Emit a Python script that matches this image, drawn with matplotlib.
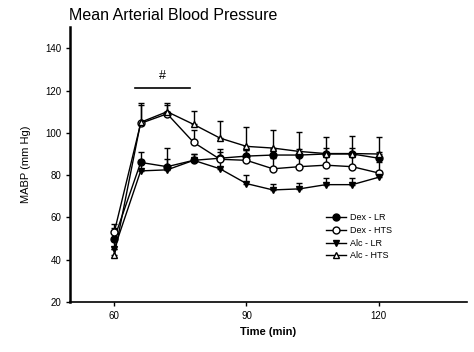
import matplotlib
matplotlib.use('Agg')
import matplotlib.pyplot as plt
from matplotlib.lines import Line2D

plt.rcParams['font.family'] = ['Liberation Sans', 'DejaVu Sans']

# 시간 (min)
time = [60, 66, 72, 78, 84, 90, 96, 102, 108, 114, 120]

# 평균 동맥압 (mm Hg)
dex_lr = [50, 86, 84, 87, 88, 89, 89.5, 89.5, 90, 90, 88]
dex_hts = [53, 104.5, 109, 95.5, 87.5, 87, 83, 84, 84.7, 84, 81]
alc_lr = [45, 82, 82.5, 87, 83, 76, 73, 73.5, 75.5, 75.5, 79]
alc_hts = [42, 105, 110, 104, 97.5, 93.6, 92.8, 91.2, 90.2, 90.2, 90]

# 위쪽 오차 막대 (SEM)
dex_lr_err = [5, 5, 9, 3, 3, 3, 3, 3, 3, 3, 3]
dex_hts_err = [4, 8.5, 4, 6, 5, 5, 5, 5, 5, 5, 5]
alc_lr_err = [4, 5, 5, 3, 4, 4, 3, 3, 3, 3, 3]
alc_hts_err = [3, 9, 4, 6.5, 8, 9, 8.5, 9, 8, 8.5, 8]

labels = ['Dex - LR', 'Dex - HTS', 'Alc - LR', 'Alc - HTS']
markers = ['o', 'o', 'v', '^']
faces = ['black', 'white', 'black', 'white']

series = [dex_lr, dex_hts, alc_lr, alc_hts]
errors = [dex_lr_err, dex_hts_err, alc_lr_err, alc_hts_err]

fig = plt.figure(figsize=(4.74, 3.52), dpi=100)
ax = fig.add_axes([0.148, 0.142, 0.837, 0.781])

handles = []
for values, err, mk, fc, lab in zip(series, errors, markers, faces, labels):
    ax.errorbar(time, values, yerr=[[0] * len(err), err], color='black',
                marker=mk, markerfacecolor=fc, markeredgecolor='black',
                markersize=5, linewidth=1, elinewidth=1, capsize=2.5, capthick=1)
    handles.append(Line2D([], [], color='black', marker=mk, markerfacecolor=fc,
                          markeredgecolor='black', markersize=5, linewidth=1, label=lab))
# end for

# 유의성 표시
ax.plot([64.7, 77.3], [121.3, 121.3], color='black', linewidth=1.2)
ax.text(71, 124, '#', ha='center', va='bottom', fontsize=9)

ax.set_xlim(50, 140)
ax.set_ylim(20, 150)
ax.set_xticks([60, 90, 120])
ax.set_yticks([20, 40, 60, 80, 100, 120, 140])
ax.tick_params(labelsize=7, direction='out', length=3, width=1)

ax.spines['top'].set_visible(False)
ax.spines['right'].set_visible(False)
ax.spines['left'].set_linewidth(1.8)
ax.spines['bottom'].set_linewidth(1.2)

ax.set_xlabel('Time (min)', fontsize=8, fontweight='bold')
ax.set_ylabel('MABP (mm Hg)', fontsize=8, labelpad=10)
fig.text(0.146, 0.955, 'Mean Arterial Blood Pressure', fontsize=11.5, va='center')

ax.legend(handles=handles, loc='upper left', bbox_to_anchor=(0.63, 0.345),
          frameon=False, fontsize=6.5, handlelength=2.2, labelspacing=0.4,
          borderpad=0.2, handletextpad=0.4)

plt.savefig('out.png', dpi=100)
